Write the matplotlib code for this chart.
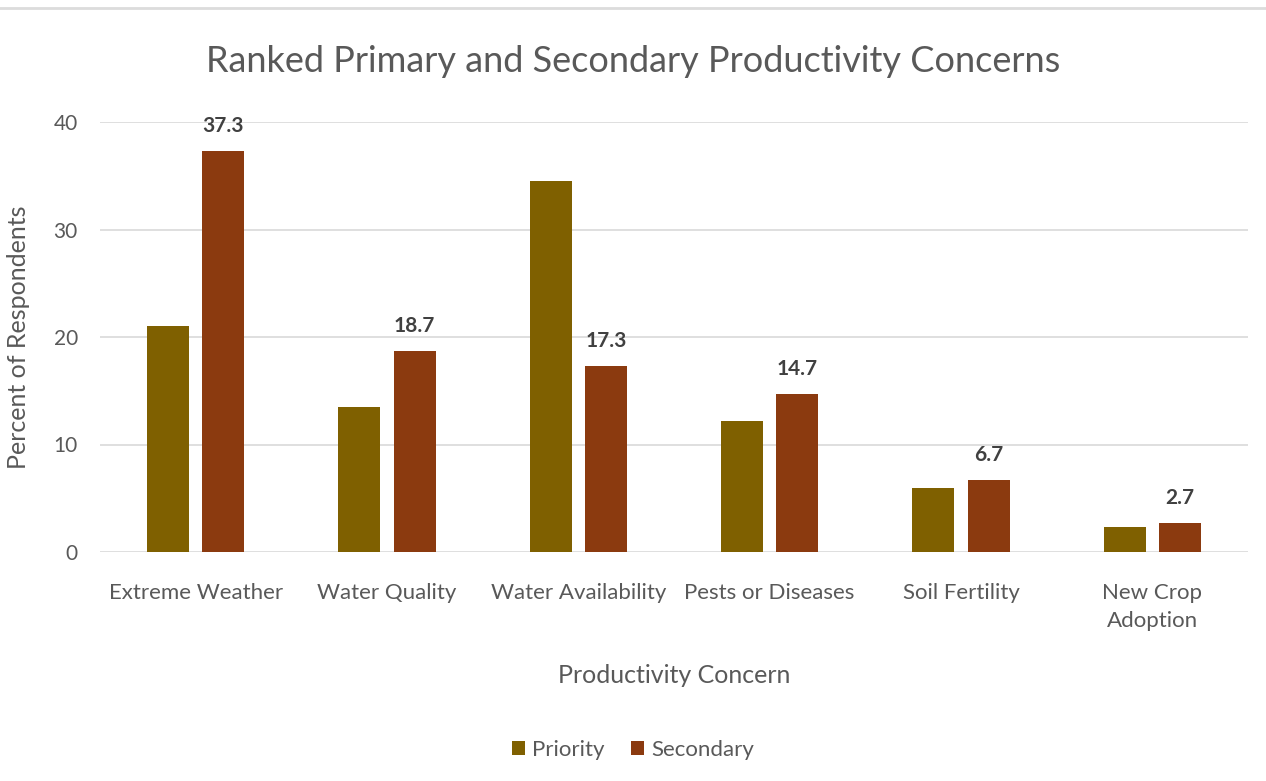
import matplotlib
matplotlib.use("Agg")
import matplotlib.pyplot as plt
import numpy as np
from matplotlib.lines import Line2D

categories = ["Extreme Weather", "Water Quality", "Water Availability",
              "Pests or Diseases", "Soil Fertility", "New Crop\nAdoption"]
priority = [21.0, 13.5, 34.5, 12.2, 6.0, 2.3]
secondary = [37.3, 18.7, 17.3, 14.7, 6.7, 2.7]
yticks = [0, 10, 20, 30, 40]

plt.rcParams['font.family'] = ['Lato', 'DejaVu Sans']

fig = plt.figure(figsize=(12.66, 7.81), dpi=100)
ax = fig.add_axes([100/1266, (781-552)/781, 1148/1266, 430/781])

x = np.arange(len(categories))
w = 0.22
gap = 0.07
c_pri = "#7f6000"
c_sec = "#8b3a0f"
ax.bar(x - (w+gap)/2, priority, w, color=c_pri, label="Priority")
ax.bar(x + (w+gap)/2, secondary, w, color=c_sec, label="Secondary")

for xi, v in zip(x, secondary):
    ax.text(xi + (w+gap)/2, v + 1.4, f"{v:.1f}", ha="center", va="bottom",
            fontsize=15, fontweight="bold", color="#404040", clip_on=False)

ax.set_xlim(-0.5, len(categories) - 0.5)
ax.set_ylim(0, 40)
ax.set_yticks(yticks)
ax.set_yticklabels([str(t) for t in yticks], fontsize=15, color="#595959")
ax.set_xticks(x)
ax.set_xticklabels(categories, fontsize=16, color="#595959", linespacing=1.5)
ax.tick_params(axis="x", length=0, pad=22)
ax.tick_params(axis="y", length=0, pad=16)
for s in ax.spines.values():
    s.set_visible(False)
ax.grid(axis="y", color="#d9d9d9", linewidth=1.2)
ax.set_axisbelow(True)

ax.set_ylabel("Percent of Respondents", fontsize=18, color="#595959")
ax.yaxis.set_label_coords(-70/1148, 0.5)
ax.set_xlabel("Productivity Concern", fontsize=18, color="#595959", labelpad=24)
fig.text(0.5, 1 - 62/781, "Ranked Primary and Secondary Productivity Concerns",
         ha="center", va="center", fontsize=26, color="#595959")

fig.legend(loc="center", bbox_to_anchor=(0.5, 1 - 750/781), ncol=2, frameon=False,
           fontsize=16, handlelength=0.6, handleheight=0.6, handletextpad=0.3,
           columnspacing=1.2, labelcolor="#595959")

fig.add_artist(Line2D([0, 1], [1 - 8/781, 1 - 8/781], color="#dcdcdc", linewidth=2,
                      transform=fig.transFigure))

fig.savefig("out.png", dpi=100)
